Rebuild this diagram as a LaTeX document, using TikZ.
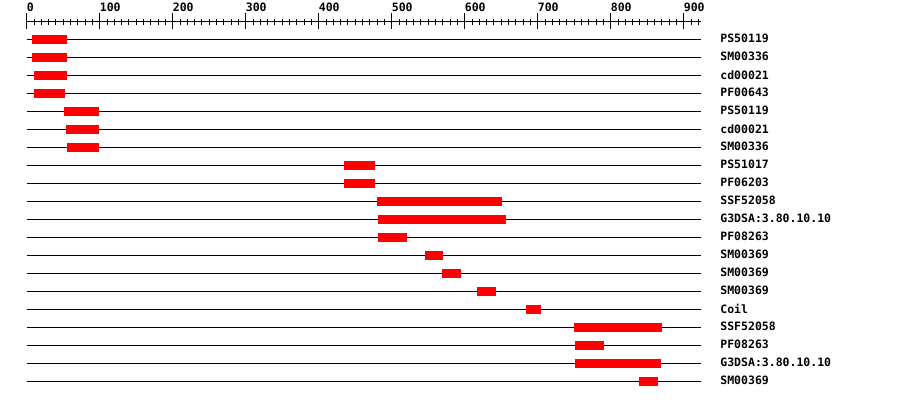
\documentclass[tikz,border=0pt]{standalone}
\usepackage{fontspec}
\setmonofont{DejaVu Sans Mono}
\usepackage{tikz}
\definecolor{HitRed}{HTML}{FF0000}
\tikzset{
  rule/.style={line width=1pt,draw=black},
  track/.style={line width=1pt,draw=black},
  minortick/.style={line width=1pt,draw=black},
  majortick/.style={line width=1pt,draw=black},
  hit/.style={fill=HitRed,draw=none},
  scalelbl/.style={font=\ttfamily\bfseries\fontsize{11.5}{12}\selectfont,anchor=west,inner sep=0pt},
  hitlbl/.style={font=\ttfamily\bfseries\fontsize{11.5}{12}\selectfont,anchor=west,inner sep=0pt}
}

\begin{document}
\begin{tikzpicture}[x=1pt,y=-1pt]
  \useasboundingbox (0,0) rectangle (900,400);
  \begin{scope}[xshift=26.7pt,x=0.73pt]
    % ruler
    \coordinate (r0) at (0,21.5); \coordinate (r1) at (924,21.5);
    \draw[rule] (r0) -- (r1);
    \foreach \t in {0,10,...,920} \draw[minortick] (\t,19) -- (\t,25);
    \foreach \t in {0,100,...,900} {
      \draw[majortick] (\t,13) -- (\t,28.5);
      \node[scalelbl] (s\t) at (\t,7.5) {\t};
    }
    % tracks and hits
    \foreach \s/\e/\name [count=\i] in {
        7/55/PS50119, 7/55/SM00336, 10/55/cd00021, 10/52/PF00643,
        51/99/PS50119, 54/99/cd00021, 55/99/SM00336, 435/477/PS51017,
        435/477/PF06203, 480/651/SSF52058, 481/656/G3DSA:3.80.10.10, 481/521/PF08263,
        545/570/SM00369, 569/595/SM00369, 617/643/SM00369, 684/705/Coil,
        750/870/SSF52058, 751/791/PF08263, 751/869/G3DSA:3.80.10.10, 839/865/SM00369} {
      \pgfmathsetmacro\yy{39.3+18*(\i-1)}
      \coordinate (a\i) at (0,\yy); \coordinate (b\i) at (924,\yy);
      \draw[track] (a\i) -- (b\i);
      \fill[hit] (\s,\yy-4.6) rectangle (\e,\yy+4.6);
      \node[hitlbl] (n\i) at (950,\yy-0.5) {\name};
    }
  \end{scope}
\end{tikzpicture}
\end{document}
